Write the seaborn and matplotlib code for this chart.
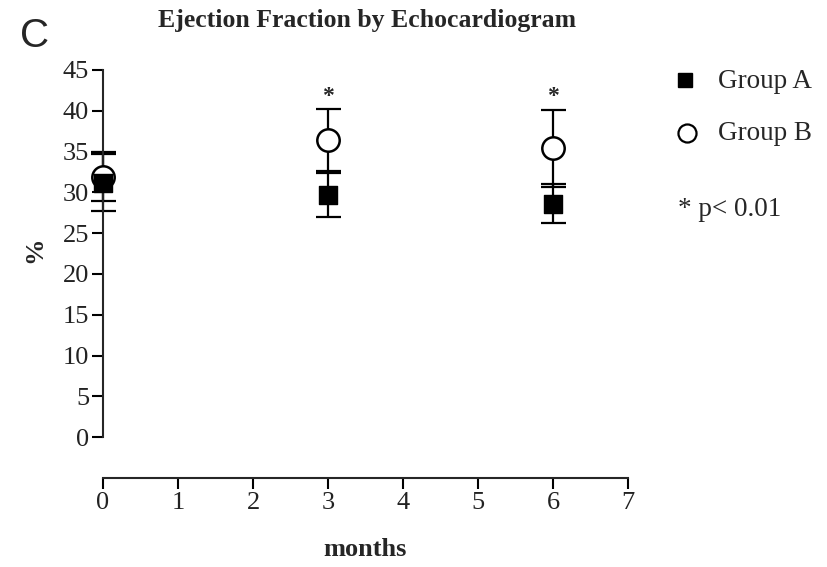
import matplotlib
matplotlib.use("Agg")
import matplotlib.pyplot as plt
import seaborn as sns
import pandas as pd

# Ejection fraction (%) by month, mean and error
months = [0, 3, 6]
group_a_mean = [31.2, 29.7, 28.6]
group_a_err = [3.5, 2.7, 2.4]
group_b_mean = [31.9, 36.4, 35.4]
group_b_err = [3.0, 3.8, 4.7]
sig_months = [3, 6]
sig_level = 41.7

x_ticks = [0, 1, 2, 3, 4, 5, 6, 7]
y_ticks = [0, 5, 10, 15, 20, 25, 30, 35, 40, 45]

sns.set_style("ticks")
plt.rcParams["font.family"] = ["Liberation Serif", "DejaVu Serif"]

df = pd.DataFrame({
    "month": months * 2,
    "ef": group_a_mean + group_b_mean,
    "err": group_a_err + group_b_err,
    "group": ["Group A"] * 3 + ["Group B"] * 3,
})

fig = plt.figure(figsize=(8.28, 5.67), dpi=100)
ax = fig.add_axes([103 / 828, 1 - 478 / 567, 525 / 828, 408 / 567])

# error bars first, then markers on top
for grp in ["Group B", "Group A"]:
    sub = df[df["group"] == grp]
    ax.errorbar(sub["month"], sub["ef"], yerr=sub["err"], fmt="none",
                ecolor="black", elinewidth=1.6, capsize=9, capthick=1.6,
                clip_on=False, zorder=2)

sub_b = df[df["group"] == "Group B"]
sub_a = df[df["group"] == "Group A"]
sns.scatterplot(data=sub_b, x="month", y="ef", marker="o", s=260,
                facecolor="white", edgecolor="black", linewidth=1.8,
                ax=ax, clip_on=False, zorder=3, legend=False)
sns.scatterplot(data=sub_a, x="month", y="ef", marker="s", s=150,
                color="black", edgecolor="black", linewidth=1,
                ax=ax, clip_on=False, zorder=4, legend=False)

for m in sig_months:
    ax.text(m, sig_level, "*", ha="center", va="center", fontsize=17,
            fontweight="bold")

ax.set_xlim(0, 7)
ax.set_ylim(-5, 45)
ax.spines["top"].set_visible(False)
ax.spines["right"].set_visible(False)
ax.spines["left"].set_bounds(0, 45)
ax.spines["bottom"].set_bounds(0, 7)
for s in ["left", "bottom"]:
    ax.spines[s].set_linewidth(1.5)
ax.set_xticks(x_ticks)
ax.set_yticks(y_ticks)
ax.tick_params(axis="both", labelsize=19, width=1.5, length=8, pad=2,
               color="black", labelcolor="#222222")
ax.set_xlabel("months", fontsize=19, fontweight="bold")
ax.set_ylabel("%", fontsize=19, fontweight="bold")
ax.xaxis.set_label_coords((365 - 103) / 525, -(538 - 478) / 408)
ax.yaxis.set_label_coords(-(103 - 46) / 525, (478 - 250) / 408)

fig.text(367 / 828, 1 - 20 / 567, "Ejection Fraction by Echocardiogram",
         ha="center", va="center", fontsize=18.5, fontweight="bold")
fig.text(35 / 828, 1 - 36 / 567, "C", ha="center", va="center",
         fontsize=29, family="Liberation Sans")

# legend drawn as figure annotations
fig.lines.append(plt.Line2D([685 / 828], [1 - 80 / 567], marker="s",
                            markersize=10, color="black", linestyle="none",
                            transform=fig.transFigure))
fig.lines.append(plt.Line2D([687 / 828], [1 - 133 / 567], marker="o",
                            markersize=13, markerfacecolor="white",
                            markeredgecolor="black", markeredgewidth=1.6,
                            linestyle="none", transform=fig.transFigure))
fig.text(718 / 828, 1 - 82 / 567, "Group A", ha="left", va="center", fontsize=19.5)
fig.text(718 / 828, 1 - 134 / 567, "Group B", ha="left", va="center", fontsize=19.5)
fig.text(678 / 828, 1 - 210 / 567, "* p< 0.01", ha="left", va="center", fontsize=19.5)

fig.savefig("out.png", dpi=100)
